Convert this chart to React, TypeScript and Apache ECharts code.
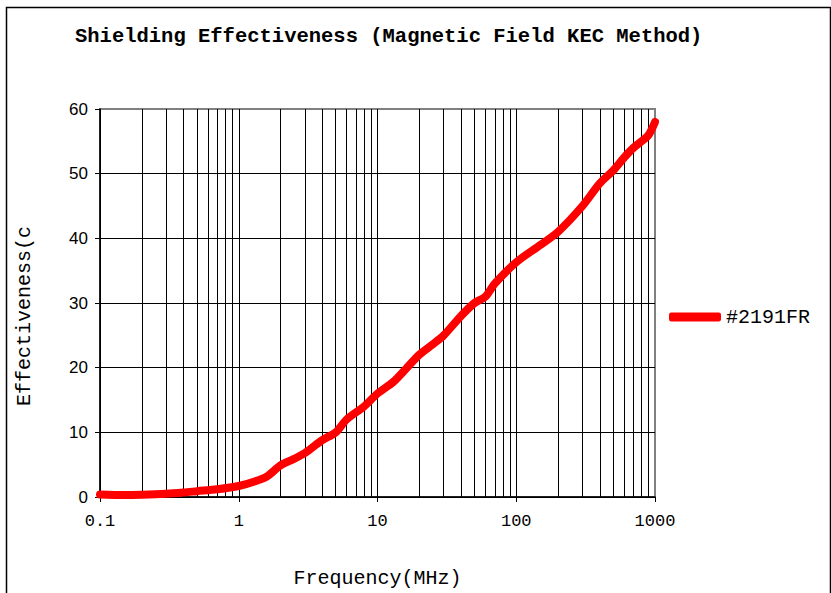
import React, { useEffect, useRef } from "react";
import * as echarts from "echarts";

const TITLE = "Shielding Effectiveness (Magnetic Field KEC Method)";
const SERIES_NAME = "#2191FR";
const X_NAME = "Frequency(MHz)";
const Y_NAME = "Effectiveness(c";

const FREQ_MHZ = [
  0.1, 0.15, 0.2, 0.3, 0.4, 0.5, 0.7, 1, 1.3, 1.6, 2, 2.5, 3, 4, 5, 6, 8, 10,
  13, 16, 20, 25, 30, 40, 50, 60, 70, 100, 150, 200, 300, 400, 500, 600, 700,
  800, 900, 1000,
];
const SE_DB = [
  0.4, 0.3, 0.35, 0.5, 0.7, 0.9, 1.2, 1.7, 2.4, 3.2, 4.9, 5.9, 6.8, 8.8, 10,
  12, 14, 16, 17.8, 19.8, 22, 23.6, 25, 28, 30, 31, 33, 36.3, 39, 41, 45, 48.5,
  50.5, 52.5, 54, 55, 56, 58,
];
const MINOR_GRID = [
  0.2, 0.3, 0.4, 0.5, 0.6, 0.7, 0.8, 0.9, 2, 3, 4, 5, 6, 7, 8, 9, 20, 30, 40,
  50, 60, 70, 80, 90, 200, 300, 400, 500, 600, 700, 800, 900,
];
const Y_MIN = 0;
const Y_MAX = 60;
const Y_STEP = 10;
const X_MIN = 0.1;
const X_MAX = 1000;

const MONO = "'Liberation Mono', 'DejaVu Sans Mono', monospace";
const SANS = "'Liberation Sans', Arial, sans-serif";

export default function App() {
  const ref = useRef<HTMLDivElement>(null);
  useEffect(() => {
    document.body.style.margin = "0";
    const chart = echarts.init(ref.current!, null, { renderer: "svg" });
    const data = FREQ_MHZ.map((f, i) => [f, SE_DB[i]]);
    chart.setOption({
      animation: false,
      backgroundColor: "#fff",
      title: {
        text: TITLE,
        left: 70,
        top: 21,
        textStyle: {
          fontFamily: MONO,
          fontWeight: "bold",
          fontSize: 20.5,
          color: "#000",
        },
      },
      legend: {
        left: 664,
        top: 302,
        icon: "roundRect",
        itemWidth: 52,
        itemHeight: 9,
        data: [SERIES_NAME],
        textStyle: { fontFamily: MONO, fontSize: 20, color: "#000" },
        itemGap: 4,
      },
      grid: {
        left: 100,
        right: 176,
        top: 109,
        bottom: 96,
        show: true,
        borderColor: "#808080",
        borderWidth: 2,
        backgroundColor: "transparent",
      },
      xAxis: {
        type: "log",
        logBase: 10,
        min: X_MIN,
        max: X_MAX,
        name: X_NAME,
        nameLocation: "middle",
        nameGap: 71,
        nameTextStyle: { fontFamily: MONO, fontSize: 20, color: "#000" },
        axisLine: { show: true, lineStyle: { color: "#000", width: 1.5 } },
        axisTick: { show: true, length: 5, lineStyle: { color: "#000" } },
        axisLabel: {
          margin: 16,
          fontFamily: MONO,
          fontSize: 17,
          color: "#000",
          formatter: (v: number) => String(v),
        },
        splitLine: {
          show: true,
          lineStyle: {
            color: ["#000", "#000", "#000", "#000", "#808080"],
            width: 1,
          },
        },
      },
      yAxis: {
        type: "value",
        min: Y_MIN,
        max: Y_MAX,
        interval: Y_STEP,
        name: Y_NAME,
        nameLocation: "middle",
        nameGap: 66,
        nameRotate: 90,
        nameTextStyle: {
          fontFamily: MONO,
          fontSize: 20,
          color: "#000",
          padding: [0, 26, 0, 0],
        },
        axisLine: { show: true, lineStyle: { color: "#000", width: 1.5 } },
        axisTick: { show: true, length: 5, lineStyle: { color: "#000" } },
        axisLabel: {
          margin: 12,
          fontFamily: SANS,
          fontSize: 17,
          color: "#000",
        },
        splitLine: {
          show: true,
          lineStyle: {
            color: ["#000", "#000", "#000", "#000", "#000", "#000", "#808080"],
            width: 1,
          },
        },
      },
      graphic: [
        {
          type: "rect",
          left: 4,
          top: 5,
          shape: { width: 824, height: 620 },
          style: { fill: "none", stroke: "#000", lineWidth: 1.5 },
          silent: true,
          z: -1,
        },
      ],
      series: [
        {
          name: "minor grid",
          type: "line",
          data: [],
          z: 1,
          silent: true,
          markLine: {
            silent: true,
            symbol: ["none", "none"],
            label: { show: false },
            lineStyle: { color: "#000", width: 1, type: "solid" },
            data: MINOR_GRID.map((v) => ({ xAxis: v })),
          },
        },
        {
          name: SERIES_NAME,
          type: "line",
          data,
          z: 5,
          smooth: 0.3,
          showSymbol: false,
          symbol: "none",
          lineStyle: { color: "#ff0000", width: 8, cap: "round", join: "round" },
          itemStyle: { color: "#ff0000" },
        },
      ],
    });
    return () => chart.dispose();
  }, []);
  return <div ref={ref} style={{ width: 831, height: 593 }} />;
}
